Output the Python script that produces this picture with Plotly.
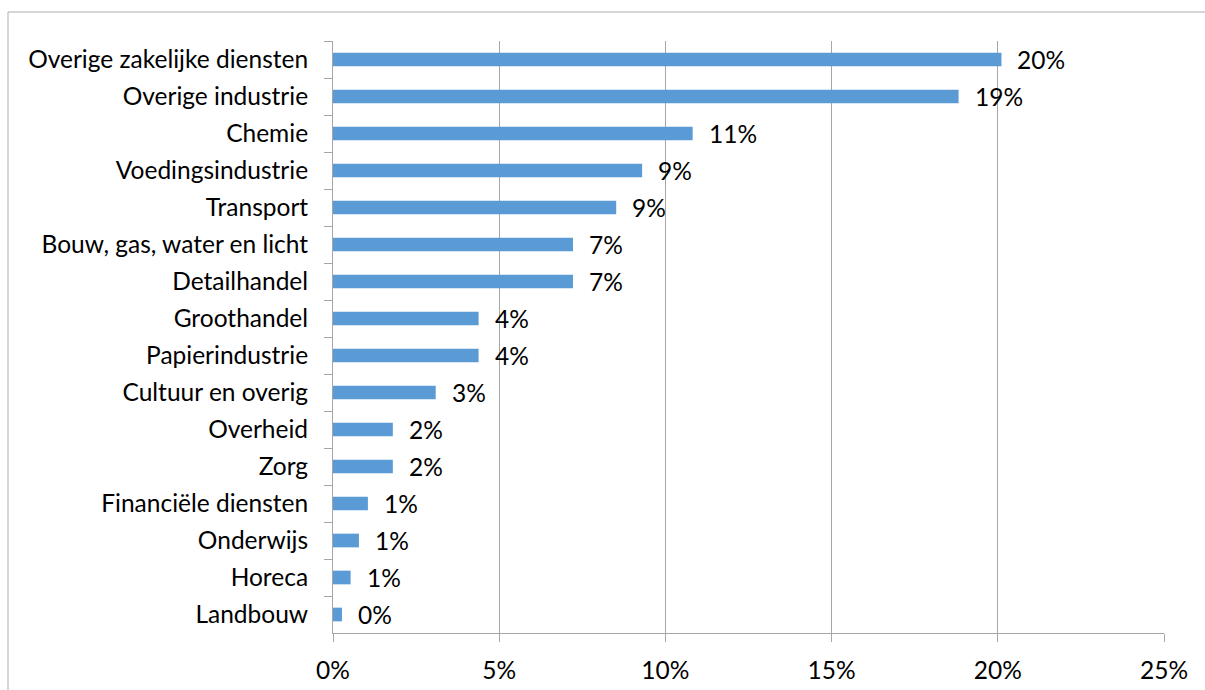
import plotly.graph_objects as go

# Share per sector (fraction), ordered top to bottom
sectors = [
    "Overige zakelijke diensten",
    "Overige industrie",
    "Chemie",
    "Voedingsindustrie",
    "Transport",
    "Bouw, gas, water en licht",
    "Detailhandel",
    "Groothandel",
    "Papierindustrie",
    "Cultuur en overig",
    "Overheid",
    "Zorg",
    "Financiële diensten",
    "Onderwijs",
    "Horeca",
    "Landbouw",
]
shares = [
    0.2011, 0.1882, 0.1082, 0.0930, 0.0852, 0.0722, 0.0722, 0.0438,
    0.0438, 0.0309, 0.0180, 0.0180, 0.0105, 0.0078, 0.0053, 0.0027,
]
tick_values = [0, 0.05, 0.10, 0.15, 0.20, 0.25]
tick_labels = ["0%", "5%", "10%", "15%", "20%", "25%"]

FONT = "Lato"
FSIZE = 24.5
BAR = "#5B9BD5"
GRID = "#A6A6A6"

fig = go.Figure(
    go.Bar(
        x=shares,
        y=sectors,
        orientation="h",
        marker=dict(color=BAR, line=dict(width=0)),
        hoverinfo="skip",
    )
)

# value labels to the right of each bar
for s, v in zip(sectors, shares):
    fig.add_annotation(
        x=v, y=s, xref="x", yref="y",
        text=f"{v:.0%}", showarrow=False,
        xanchor="left", yanchor="middle", xshift=14,
        font=dict(family=FONT, size=FSIZE, color="#000000"),
    )

W, H = 1205, 690
L, R, T, B = 333, 41, 41, 57
pw, ph = W - L - R, H - T - B

# outer chart frame
fig.add_shape(
    type="rect", xref="paper", yref="paper",
    x0=(8 - L) / pw, x1=1.2, y0=-0.3, y1=1 + (T - 12) / ph,
    line=dict(color="#ADADAD", width=1), fillcolor="rgba(0,0,0,0)",
    layer="below",
)

fig.update_layout(
    width=W, height=H,
    margin=dict(l=L, r=R, t=T, b=B, autoexpand=False),
    paper_bgcolor="white", plot_bgcolor="white",
    bargap=0.63,
    showlegend=False,
    font=dict(family=FONT, size=FSIZE, color="#000000"),
    xaxis=dict(
        range=[0, 0.25],
        tickvals=tick_values, ticktext=tick_labels,
        showgrid=True, gridcolor=GRID, gridwidth=1,
        zeroline=False,
        showline=True, linecolor=GRID, linewidth=1,
        ticks="outside", ticklen=8, tickcolor=GRID,
        ticklabelstandoff=8,
        automargin=False,
        tickfont=dict(family=FONT, size=FSIZE, color="#000000"),
        fixedrange=True,
    ),
    yaxis=dict(
        categoryorder="array", categoryarray=sectors,
        autorange="reversed",
        showgrid=False, zeroline=False,
        showline=True, linecolor=GRID, linewidth=1,
        ticks="outside", ticklen=8, tickcolor=GRID,
        tickson="boundaries",
        ticklabelstandoff=19,
        automargin=False,
        tickfont=dict(family=FONT, size=FSIZE, color="#000000"),
        fixedrange=True,
    ),
)

fig.write_html("out.html")
